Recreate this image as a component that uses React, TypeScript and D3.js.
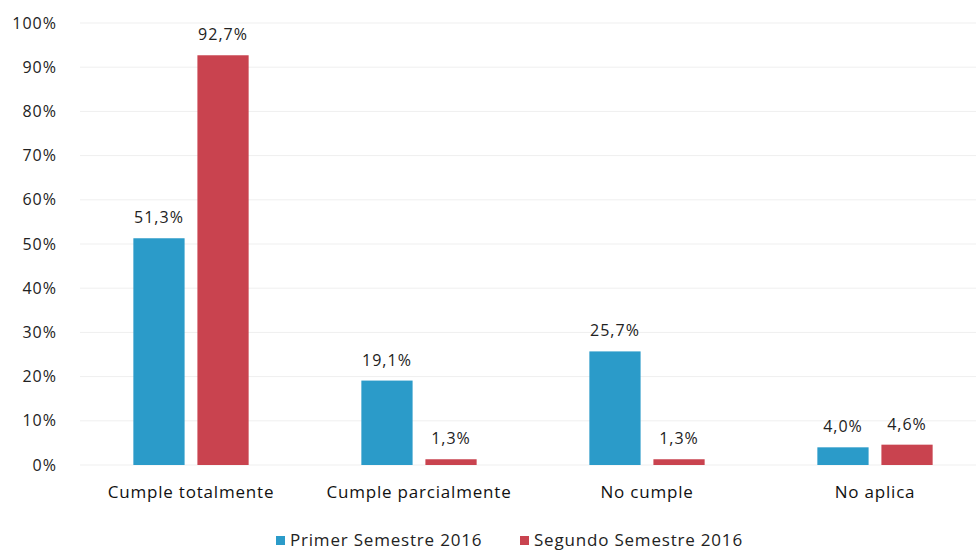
import React from "react";
import * as d3 from "d3";

const categories = ["Cumple totalmente", "Cumple parcialmente", "No cumple", "No aplica"];
const seriesNames = ["Primer Semestre 2016", "Segundo Semestre 2016"];
const primer = [51.3, 19.1, 25.7, 4.0];
const segundo = [92.7, 1.3, 1.3, 4.6];
const yTicks = [0, 10, 20, 30, 40, 50, 60, 70, 80, 90, 100];
const colors = ["#2b9bc9", "#c9434f"];

const W = 976, H = 552;
const FONT = "'Open Sans', 'Liberation Sans', sans-serif";

export default function App() {
  const x = d3.scaleBand().domain(categories).range([77, 989]).paddingInner(0).paddingOuter(0);
  const x1 = d3.scaleBand().domain(seriesNames).range([0, x.bandwidth()]).paddingInner(0.2).paddingOuter(0.88);
  const y = d3.scaleLinear().domain([0, 100]).range([465, 23]);
  const series = [primer, segundo];
  const fmt = (v: number) => v.toFixed(1).replace(".", ",") + "%";
  return (
    <svg width={W} height={H} style={{ position: "absolute", left: 0, top: 0, background: "#fff" }} fontFamily={FONT}>
      <rect width={W} height={H} fill="#fff" />
      {yTicks.map((t) => (
        <g key={t}>
          <line x1={80} x2={976} y1={y(t)} y2={y(t)} stroke="#efefef" strokeWidth={1} />
          <text x={57} y={y(t)} dy="0.35em" textAnchor="end" fontSize={16} letterSpacing={1} fill="#222">{t}%</text>
        </g>
      ))}
      {categories.map((c, i) => (
        <g key={c}>
          {series.map((s, j) => {
            const bx = (x(c) as number) + (x1(seriesNames[j]) as number);
            const bw = x1.bandwidth();
            return (
              <g key={j}>
                <rect x={bx} y={y(s[i])} width={bw} height={y(0) - y(s[i])} fill={colors[j]} />
                <text x={bx + bw / 2} y={y(s[i]) - 15} textAnchor="middle" fontSize={16} letterSpacing={1} fill="#222">{fmt(s[i])}</text>
              </g>
            );
          })}
          <text x={(x(c) as number) + x.bandwidth() / 2} y={498} textAnchor="middle" fontSize={17} letterSpacing={0.8} fill="#111">{c}</text>
        </g>
      ))}
      {seriesNames.map((n, j) => {
        const lx = j === 0 ? 276 : 520;
        return (
          <g key={n}>
            <rect x={lx} y={536} width={9} height={9} fill={colors[j]} />
            <text x={lx + 14} y={546} fontSize={17} letterSpacing={0.8} fill="#222">{n}</text>
          </g>
        );
      })}
    </svg>
  );
}
